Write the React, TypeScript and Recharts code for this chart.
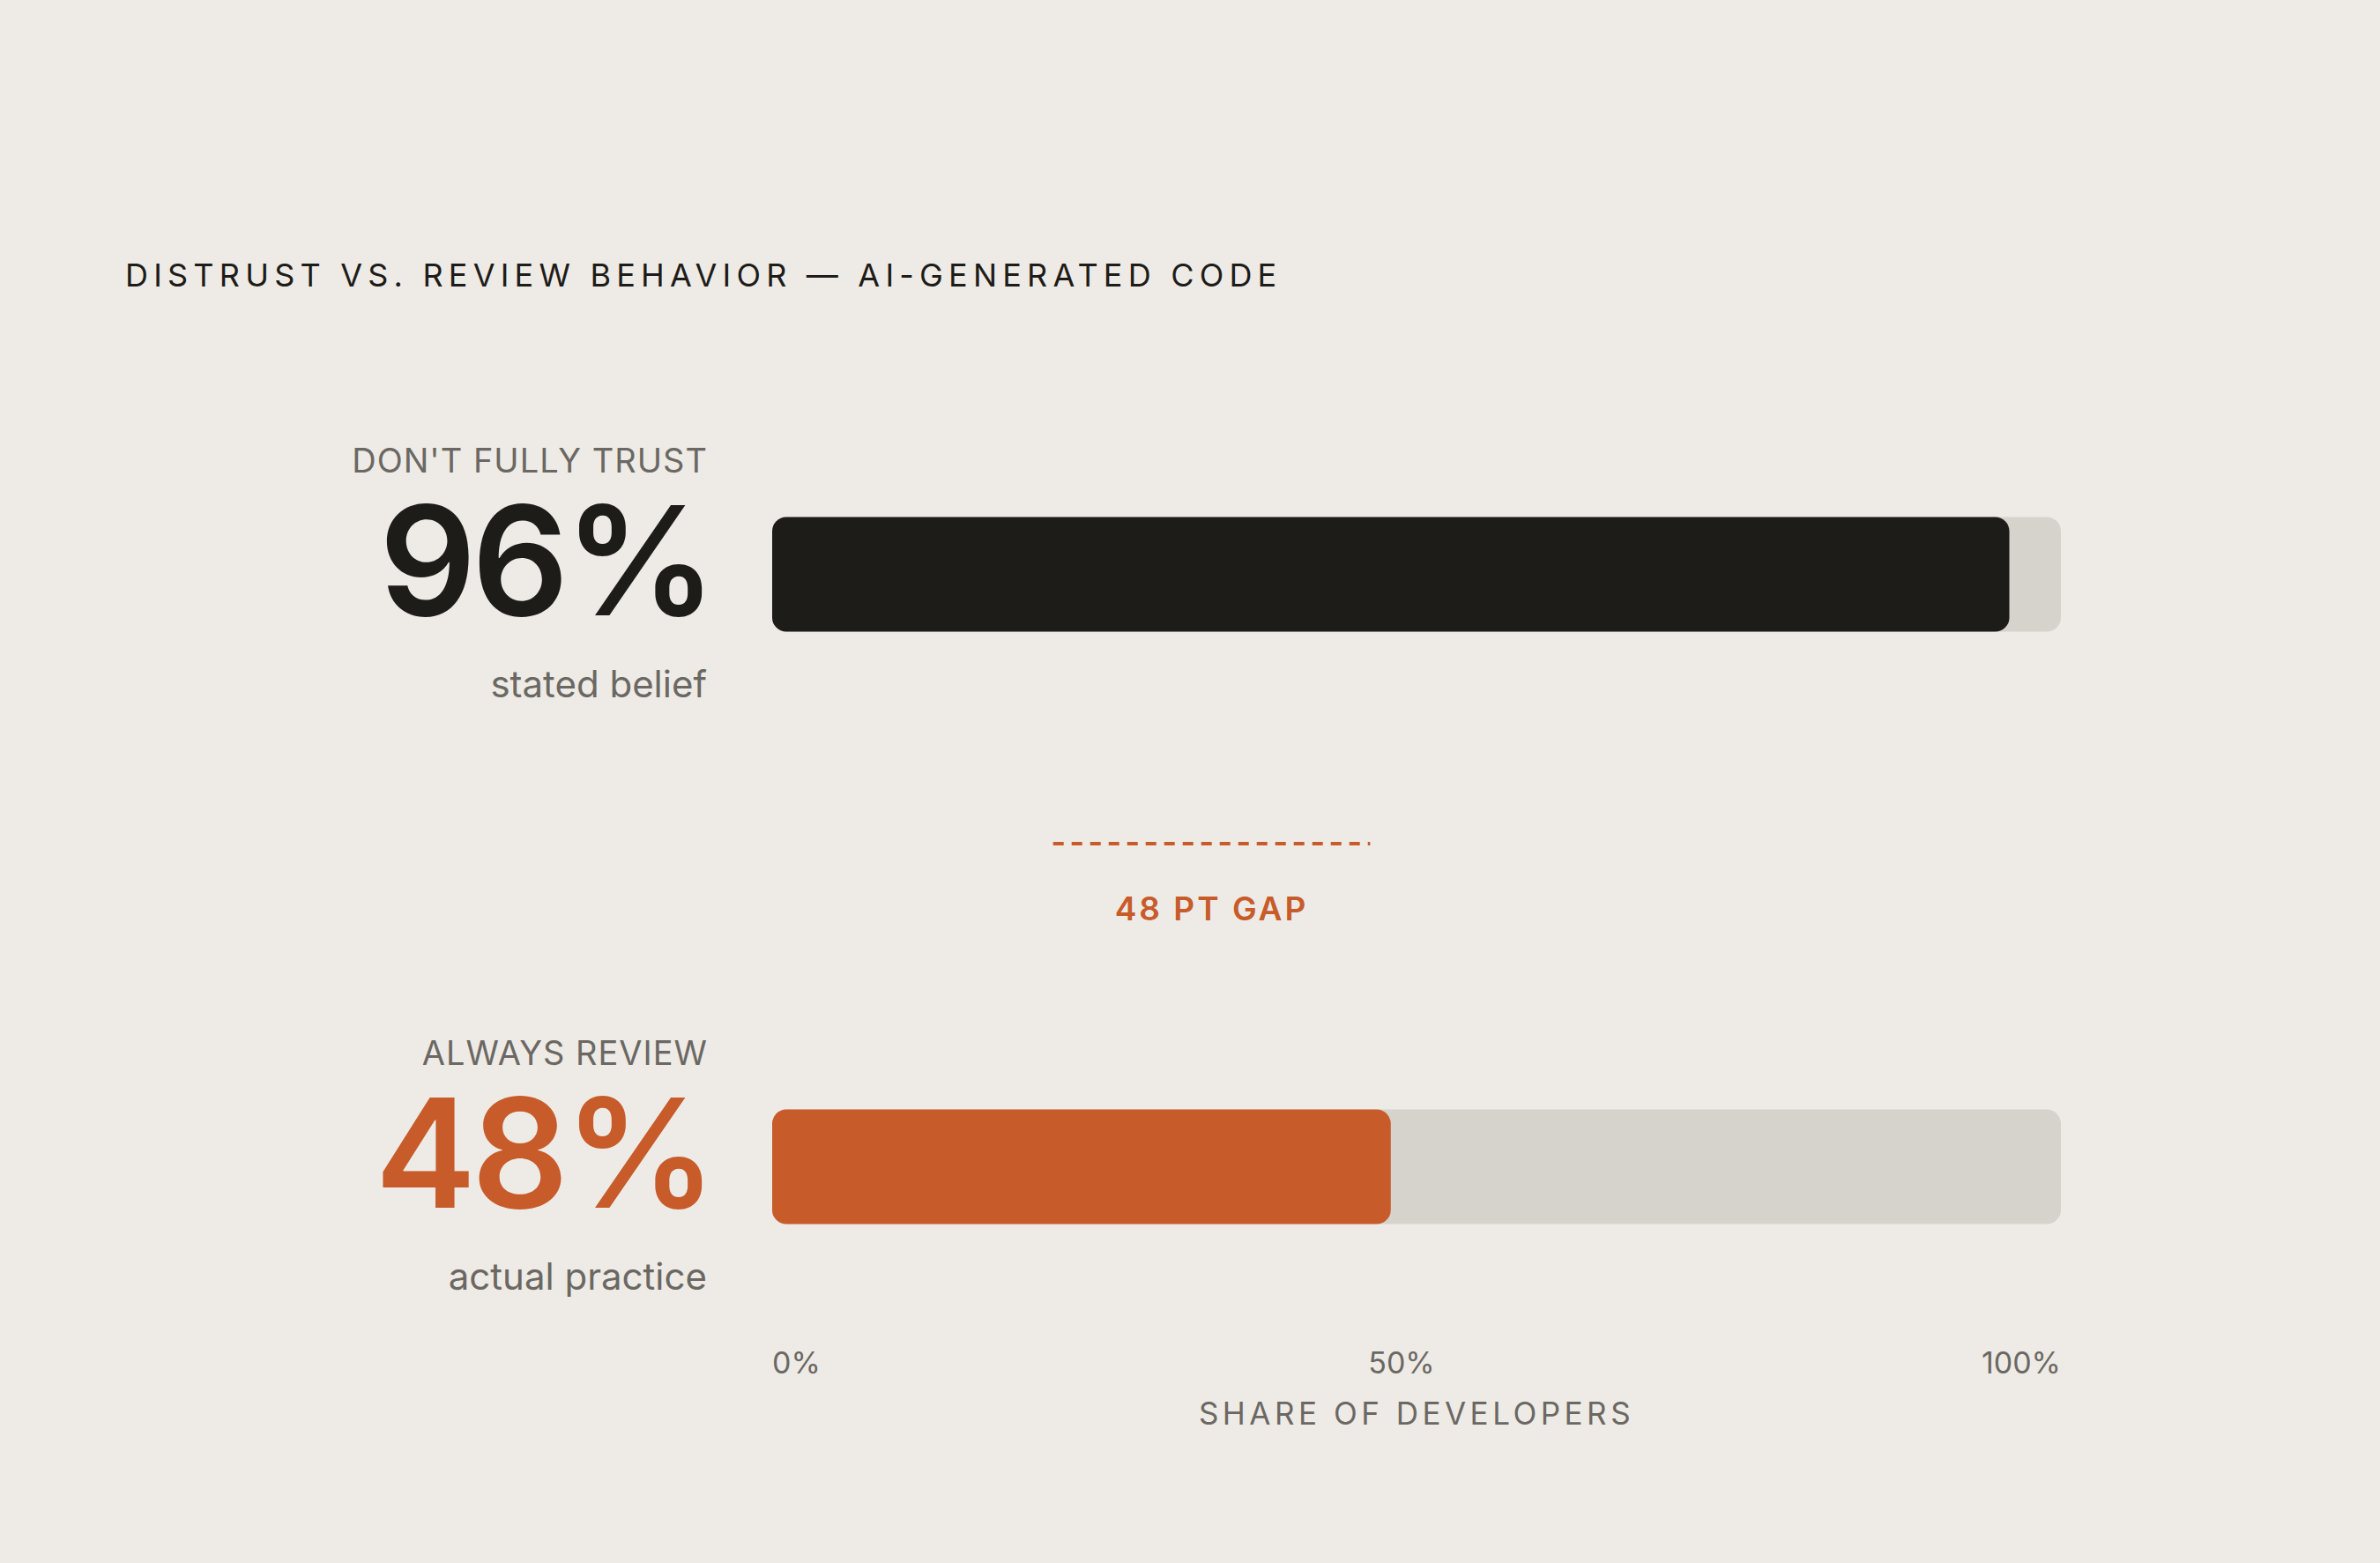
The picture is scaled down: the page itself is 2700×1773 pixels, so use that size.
import React from 'react';
import { BarChart, Bar, XAxis, YAxis, Cell, ReferenceLine } from 'recharts';

// ---------- data ----------
const ROW_KEYS = ['trust', 'gap', 'review'];
const ROW_LABELS = ["DON'T FULLY TRUST", '', 'ALWAYS REVIEW'];
const ROW_VALUES: (number | null)[] = [96, null, 48];
const ROW_CAPTIONS = ['stated belief', '', 'actual practice'];
const X_TICKS = [0, 50, 100];
const X_TICK_LABELS = ['0%', '50%', '100%'];
const GAP_LABEL = '48 PT GAP';
const GAP_LINE_FROM = 21.8;
const GAP_LINE_TO = 46.4;
const TITLE = 'DISTRUST VS. REVIEW BEHAVIOR \u2014 AI-GENERATED CODE';
const X_AXIS_TITLE = 'SHARE OF DEVELOPERS';

// ---------- style ----------
const BG = '#eeebe6';
const TRACK = '#d6d3cc';
const DARK = '#1e1c18';
const ORANGE = '#c75b2a';
const GRAY = '#6b6863';
const ROW_FILLS = [DARK, 'transparent', ORANGE];
const FONT = 'Inter, "DejaVu Sans", sans-serif';

const W = 2700;
const H = 1773;

const data = ROW_KEYS.map((key, i) => ({
  key,
  label: ROW_LABELS[i],
  value: ROW_VALUES[i],
  caption: ROW_CAPTIONS[i],
  fill: ROW_FILLS[i],
}));

const RowTick = (props: any) => {
  const { x, y, payload } = props;
  const row = data.find((d) => d.key === payload.value);
  if (!row || row.value == null) return <g />;
  return (
    <g>
      <text x={x + 1} y={y - 116} textAnchor="end" fill={GRAY} fontSize={38} style={{ letterSpacing: 1 }}>
        {row.label}
      </text>
      <text x={x + 6} y={y + 46} textAnchor="end" fill={row.fill} fontSize={172} fontWeight={600} style={{ letterSpacing: -5 }}>
        {row.value}%
      </text>
      <text x={x} y={y + 139} textAnchor="end" fill={GRAY} fontSize={42}>
        {row.caption}
      </text>
    </g>
  );
};

const PctTick = (props: any) => {
  const { x, y, payload } = props;
  const i = X_TICKS.indexOf(payload.value);
  const anchor = i === 0 ? 'start' : i === X_TICKS.length - 1 ? 'end' : 'middle';
  const dx = anchor === 'middle' ? -17 : 0;
  return (
    <text x={x + dx} y={y} textAnchor={anchor} fill={GRAY} fontSize={34}>
      {X_TICK_LABELS[i]}
    </text>
  );
};

const TrackBackground = (props: any) => {
  const { x, y, width, height, payload } = props;
  if (payload && payload.value == null) return <g />;
  return <rect x={x} y={y} width={width} height={height} rx={16} ry={16} fill={TRACK} />;
};

const GapShape = (props: any) => {
  const { x1, y1, x2 } = props;
  const mid = (x1 + x2) / 2;
  return (
    <g>
      <line x1={x1} y1={y1 - 30.5} x2={x2} y2={y1 - 30.5} stroke={ORANGE} strokeWidth={4} strokeDasharray="12 9" />
      <text x={mid} y={y1 + 56.5} textAnchor="middle" fill={ORANGE} fontSize={37} fontWeight={600} style={{ letterSpacing: 3 }}>
        {GAP_LABEL}
      </text>
    </g>
  );
};

export default function App() {
  return (
    <div style={{ position: 'fixed', left: 0, top: 0, width: W, height: H, background: BG, fontFamily: FONT }}>
      <svg width={W} height={400} style={{ position: 'absolute', left: 0, top: 0 }}>
        <text x={142} y={325} fill={DARK} fontSize={36} style={{ letterSpacing: 6.2, fontFamily: FONT }}>
          {TITLE}
        </text>
      </svg>
      <div style={{ position: 'absolute', left: 0, top: 0 }}>
        <BarChart
          width={W}
          height={H}
          data={data}
          layout="vertical"
          margin={{ top: 483.5, right: 362, bottom: 157, left: 0 }}
        >
          <XAxis
            type="number"
            domain={[0, 100]}
            ticks={X_TICKS}
            interval={0}
            axisLine={false}
            tickLine={false}
            tickSize={0}
            tickMargin={66}
            height={124.5}
            tick={<PctTick />}
            label={{
              value: X_AXIS_TITLE,
              position: 'insideBottom',
              offset: 0,
              fill: GRAY,
              fontSize: 35,
              style: { letterSpacing: 4.5 },
            }}
          />
          <YAxis
            type="category"
            dataKey="key"
            width={876}
            interval={0}
            axisLine={false}
            tickLine={false}
            tickSize={0}
            tickMargin={74}
            tick={<RowTick />}
          />
          <Bar
            dataKey="value"
            barSize={130}
            radius={16}
            isAnimationActive={false}
            background={<TrackBackground />}
          >
            {data.map((d) => (
              <Cell key={d.key} fill={d.fill} />
            ))}
          </Bar>
          <ReferenceLine
            segment={[
              { x: GAP_LINE_FROM, y: 'gap' },
              { x: GAP_LINE_TO, y: 'gap' },
            ]}
            shape={<GapShape />}
            ifOverflow="visible"
          />
        </BarChart>
      </div>
    </div>
  );
}
